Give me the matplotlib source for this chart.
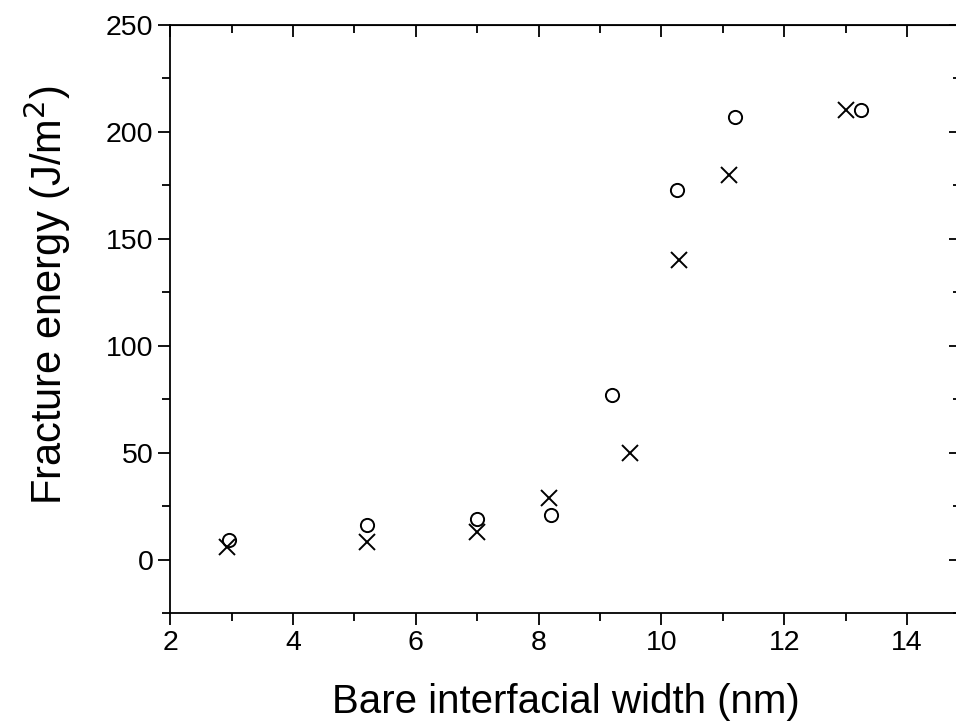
import matplotlib
matplotlib.use("Agg")
import matplotlib.pyplot as plt
from matplotlib.ticker import MultipleLocator

plt.rcParams['font.family'] = ['Liberation Sans', 'DejaVu Sans']

x_circle = [2.95, 5.2, 7.0, 8.2, 9.2, 10.25, 11.2, 13.25]
y_circle = [9, 16, 19, 21, 77, 173, 207, 210]
x_cross = [2.92, 5.2, 7.0, 8.17, 9.48, 10.28, 11.1, 13.0]
y_cross = [6, 8, 13, 29, 50, 140, 180, 210]

fig = plt.figure(figsize=(9.56, 7.28), dpi=100)
ax = fig.add_axes([0.178, 0.158, 0.8274, 0.8077])

ax.plot(x_circle, y_circle, linestyle='none', marker='o', markersize=9.5,
        markerfacecolor='none', markeredgecolor='black', markeredgewidth=1.4)
ax.plot(x_cross, y_cross, linestyle='none', marker='x', markersize=11.5,
        color='black', markeredgewidth=1.4)

ax.set_xlim(2, 14.88)
ax.set_ylim(-25, 250)
ax.xaxis.set_major_locator(MultipleLocator(2))
ax.xaxis.set_minor_locator(MultipleLocator(1))
ax.yaxis.set_major_locator(MultipleLocator(50))
ax.yaxis.set_minor_locator(MultipleLocator(25))

for s in ax.spines.values():
    s.set_linewidth(1.3)

MAJ, MIN = 8.6, 5.5
ax.tick_params(which='both', direction='out', top=False, right=False,
               width=1.3, labelsize=20.5)
ax.tick_params(axis='x', pad=4)
ax.tick_params(axis='y', pad=3.5)
ax.tick_params(which='major', length=MAJ)
ax.tick_params(which='minor', length=MIN)

ax2 = ax.secondary_xaxis('top')
ax2.xaxis.set_major_locator(MultipleLocator(2))
ax2.xaxis.set_minor_locator(MultipleLocator(1))
ax2.tick_params(which='both', direction='in', width=1.3, labeltop=False)
ax2.tick_params(which='major', length=MAJ)
ax2.tick_params(which='minor', length=MIN)
ax2.set_xticklabels([])

ax3 = ax.secondary_yaxis('right')
ax3.yaxis.set_major_locator(MultipleLocator(50))
ax3.yaxis.set_minor_locator(MultipleLocator(25))
ax3.tick_params(which='both', direction='in', width=1.3, labelright=False)
ax3.tick_params(which='major', length=MAJ)
ax3.tick_params(which='minor', length=MIN)
ax3.set_yticklabels([])

ax.set_xlabel('Bare interfacial width (nm)', fontsize=29, labelpad=19)
ax.set_ylabel('Fracture energy (J/m$^2$)', fontsize=30, labelpad=24)
ax.yaxis.label.set_y(0.54)

fig.savefig('out.png', dpi=100)
